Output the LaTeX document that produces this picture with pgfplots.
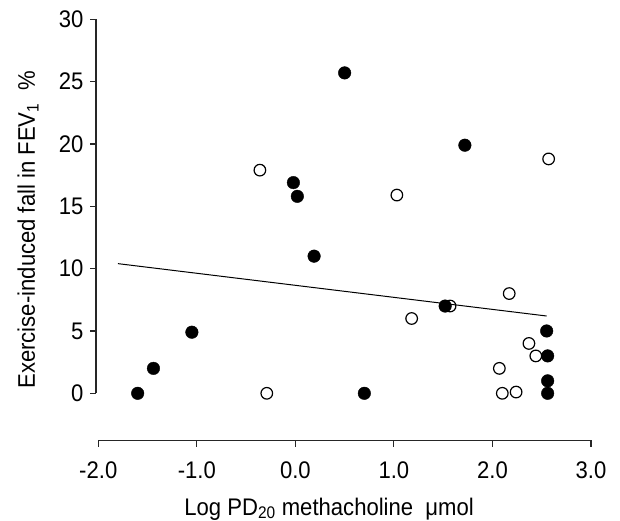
\documentclass[border=0pt]{standalone}
\usepackage{fontspec}
\setmainfont{Liberation Sans}[FakeStretch=0.92]
\usepackage{pgfplots}
\pgfplotsset{compat=1.18}
\newcommand{\figfont}{\fontsize{24}{28}\selectfont}

\begin{document}
\begin{tikzpicture}
% page = 620 x 521 px, 1px = 1pt, origin at the axis box's lower left
\useasboundingbox (-96pt,-80.5pt) rectangle (524pt,440.5pt);
\begin{axis}[
  at={(0,0)}, anchor=south west,
  scale only axis, width=495pt, height=421.2pt,
  xmin=-2.023, xmax=3, ymin=-3.785, ymax=30,
  axis x line*=bottom, axis y line*=left,
  x axis line style={shorten <=2.3pt},
  y axis line style={shorten <=47.2pt},
  axis line style={black!85, line width=1.1pt},
  every tick/.style={black!85, line width=1.1pt},
  tick align=outside, major tick length=6pt,
  xtick={-2,-1,0,1,2,3}, xticklabels={-2.0,-1.0,0.0,1.0,2.0,3.0},
  ytick={0,5,10,15,20,25,30}, yticklabels={0,5,10,15,20,25,30},
  tick label style={font=\figfont},
  xticklabel shift=11.5pt, yticklabel shift=3pt,
  label style={font=\figfont},
  xlabel={Log PD\textsubscript{20} methacholine~~μmol},
  xlabel style={at={(axis cs:0.342,-3.785)}, anchor=base, yshift=-74.5pt},
  ylabel={Exercise-induced fall in FEV\textsubscript{1}~~\%},
  ylabel style={at={(rel axis cs:0,0.5)}, anchor=center, yshift=68pt},
  clip=false,
]
% regression line
\addplot[black, line width=1pt] coordinates {(-1.80,10.4) (2.55,6.2)};
% filled circles
\addplot[only marks, mark=*, mark size=6.3pt, black] coordinates {
  (-1.60,0) (-1.44,2.0) (-1.05,4.9) (-0.02,16.9) (0.02,15.8) (0.19,11.0)
  (0.50,25.7) (0.70,0) (1.52,7.0) (1.72,19.9) (2.55,5.0) (2.56,3.0)
  (2.56,1.0) (2.56,0)};
% open circles
\addplot[only marks, mark=o, mark size=5.8pt, black, mark options={line width=1.2pt}] coordinates {
  (-0.36,17.9) (-0.29,0) (1.03,15.9) (1.18,6.0) (1.57,7.0) (2.17,8.0)
  (2.07,2.0) (2.10,0) (2.24,0.1) (2.37,4.0) (2.44,3.0) (2.57,18.8)};
\end{axis}
\end{tikzpicture}
\end{document}
